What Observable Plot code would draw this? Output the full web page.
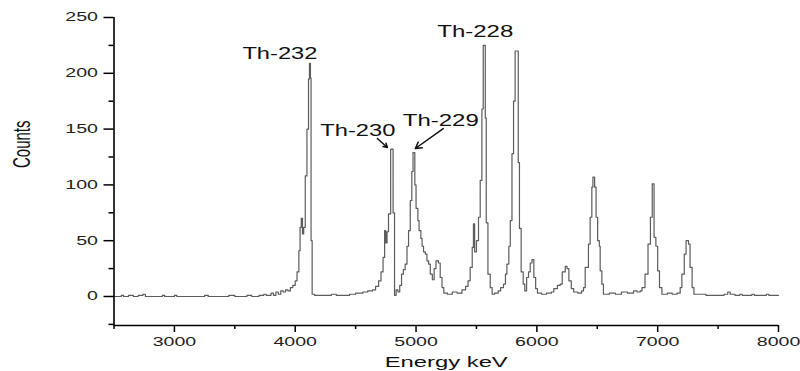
<!DOCTYPE html>
<html>
<head>
<meta charset="utf-8">
<script src="https://cdn.jsdelivr.net/npm/d3@7"></script>
<script src="https://cdn.jsdelivr.net/npm/@observablehq/plot@0.6"></script>
<style>
  html, body { margin: 0; padding: 0; background: #fff; }
  #chart { width: 800px; height: 371px; }
</style>
</head>
<body>
<div id="chart"></div>
<script>
// Spectrum (histogram, step-after): energy in keV, counts
const energy = [
  2500, 2560, 2580, 2620, 2660, 2700, 2740, 2760, 2900, 2920, 3000, 3020, 3250, 3280, 3450, 3500,
  3600, 3640, 3700, 3740, 3760, 3800, 3820, 3840, 3860, 3880, 3900, 3920, 3940, 3960, 3980, 4000,
  4015, 4030, 4040, 4050, 4060, 4070, 4083, 4097, 4110, 4118, 4126, 4131, 4140, 4160, 4300, 4340,
  4450, 4500, 4560, 4600, 4640, 4665, 4690, 4710, 4727, 4740, 4750, 4760, 4772, 4790, 4810, 4822,
  4835, 4850, 4865, 4880, 4895, 4910, 4925, 4938, 4952, 4965, 4975, 4990, 5000, 5015, 5025, 5040,
  5050, 5062, 5077, 5090, 5104, 5118, 5135, 5150, 5165, 5185, 5200, 5215, 5230, 5260, 5300, 5340,
  5380, 5410, 5430, 5448, 5465, 5475, 5485, 5500, 5517, 5531, 5545, 5556, 5573, 5581, 5595, 5614,
  5630, 5650, 5680, 5700, 5724, 5740, 5752, 5768, 5780, 5794, 5807, 5820, 5846, 5856, 5870, 5887,
  5900, 5915, 5931, 5945, 5960, 5975, 5990, 6005, 6040, 6080, 6120, 6140, 6170, 6193, 6210, 6235,
  6250, 6265, 6285, 6305, 6340, 6370, 6386, 6400, 6414, 6427, 6441, 6455, 6464, 6478, 6490, 6503,
  6517, 6524, 6538, 6551, 6600, 6650, 6700, 6750, 6800, 6830, 6855, 6870, 6895, 6920, 6940, 6955,
  6970, 6985, 7000, 7015, 7035, 7080, 7120, 7160, 7186, 7200, 7220, 7235, 7255, 7268, 7285, 7300,
  7400, 7550, 7580, 7600, 7640, 7680, 7700, 7780, 7800, 7880, 7900, 7920, 8000
];
const counts = [
  0, 1, 0, 1, 0, 1, 2, 0, 1, 0, 1, 0, 1, 0, 1, 0,
  1, 0, 1, 2, 1, 3, 1, 4, 2, 5, 4, 6, 5, 8, 10, 14,
  22, 41, 62, 70, 56, 62, 108, 150, 195, 209, 196, 50, 2, 1, 2, 1,
  2, 3, 4, 5, 6, 9, 14, 22, 35, 59, 48, 58, 74, 132, 75, 1,
  6, 4, 10, 20, 24, 29, 45, 59, 86, 112, 129, 100, 79, 68, 59, 52,
  45, 40, 38, 32, 29, 20, 15, 25, 32, 30, 17, 8, 3, 2, 4, 3,
  6, 9, 14, 26, 44, 65, 40, 50, 71, 104, 168, 225, 160, 66, 20, 8,
  2, 3, 5, 8, 11, 20, 29, 45, 68, 128, 175, 220, 120, 61, 22, 11,
  5, 17, 22, 30, 33, 17, 7, 3, 2, 3, 4, 7, 10, 11, 22, 27,
  25, 14, 7, 4, 3, 5, 8, 26, 26, 47, 71, 98, 107, 98, 71, 50,
  45, 23, 11, 2, 3, 2, 4, 3, 5, 4, 5, 8, 20, 47, 71, 101,
  53, 45, 23, 8, 2, 3, 2, 3, 8, 20, 38, 50, 47, 26, 8, 2,
  1, 2, 4, 2, 1, 2, 1, 2, 1, 1, 2, 1, 1
];

// Axis ticks
const xMajor = [3000, 4000, 5000, 6000, 7000, 8000];
const xMinor = [2500, 3500, 4500, 5500, 6500, 7500];
const yMajor = [0, 50, 100, 150, 200, 250];
const yMinor = [-25, 25, 75, 125, 175, 225];

// Peak annotations
const peakNames = ["Th-232", "Th-230", "Th-229", "Th-228"];
const peakLabelX = [3873, 4518, 5205, 5490];
const peakLabelY = [218, 149, 157.7, 237.5];
// Arrows (Th-230, Th-229)
const arrowX1 = [4680, 5225];
const arrowY1 = [141.6, 150.5];
const arrowX2 = [4763, 4994];
const arrowY2 = [133.5, 132.6];

const spectrum = energy.map((e, i) => ({e, c: counts[i]}));
const labels = peakNames.map((t, i) => ({t, x: peakLabelX[i], y: peakLabelY[i]}));
const arrows = arrowX1.map((x1, i) => ({x1, y1: arrowY1[i], x2: arrowX2[i], y2: arrowY2[i]}));

const plot = Plot.plot({
  width: 800,
  height: 371,
  marginLeft: 113.5,
  marginRight: 22,
  marginTop: 17,
  marginBottom: 46,
  style: {fontFamily: "'Liberation Sans', Arial, sans-serif", fontSize: "12px", background: "#fff", color: "#000"},
  x: {domain: [2500, 8000]},
  y: {domain: [-26, 250]},
  marks: [
    Plot.line(spectrum, {x: "e", y: "c", curve: "step-after", stroke: "#5c5c5c", strokeWidth: 1.2}),
    Plot.ruleX([2500], {stroke: "#000", strokeWidth: 1.6}),
    Plot.ruleY([-26], {stroke: "#000", strokeWidth: 1.6}),
    Plot.axisX({ticks: xMajor, tickSize: 7, tickPadding: 5, tickFormat: d => String(d), label: null, strokeWidth: 1.5, fill: "#222"}),
    Plot.axisX({ticks: xMinor, tickSize: 4, tickFormat: () => "", label: null, strokeWidth: 1.5}),
    Plot.axisY({ticks: yMajor, tickSize: 10, tickPadding: 6, tickFormat: d => String(d), label: null, strokeWidth: 1.5, fill: "#222"}),
    Plot.axisY({ticks: yMinor, tickSize: 5, tickFormat: () => "", label: null, strokeWidth: 1.5}),
    Plot.text(["Energy keV"], {frameAnchor: "bottom", dy: 41, fontSize: 15, fill: "#111"}),
    Plot.text(["Counts"], {frameAnchor: "left", dx: -91.5, dy: -3.5, rotate: -90, fontSize: 15, fill: "#111"}),
    Plot.text(labels, {x: "x", y: "y", text: "t", fontSize: 17, fill: "#111"}),
    Plot.arrow(arrows, {x1: "x1", y1: "y1", x2: "x2", y2: "y2", stroke: "#111", strokeWidth: 1.5, headLength: 7, bend: 0})
  ]
});

document.getElementById("chart").appendChild(plot);

// The reference's text is horizontally stretched; match its widths.
const widths = {"Th-232": 75, "Th-230": 75, "Th-229": 76, "Th-228": 76, "Energy keV": 123};
d3.select(plot).selectAll("text").each(function() {
  const s = this.textContent;
  if (!s) return;
  if (s === "Counts") {
    const t = this.getAttribute("transform") || "";
    this.setAttribute("transform", t + " scale(1,1.6)");
    return;
  }
  const len = this.getComputedTextLength();
  const target = widths[s] !== undefined ? widths[s] : len * 1.63;
  this.setAttribute("textLength", target);
  this.setAttribute("lengthAdjust", "spacingAndGlyphs");
});
</script>
</body>
</html>
